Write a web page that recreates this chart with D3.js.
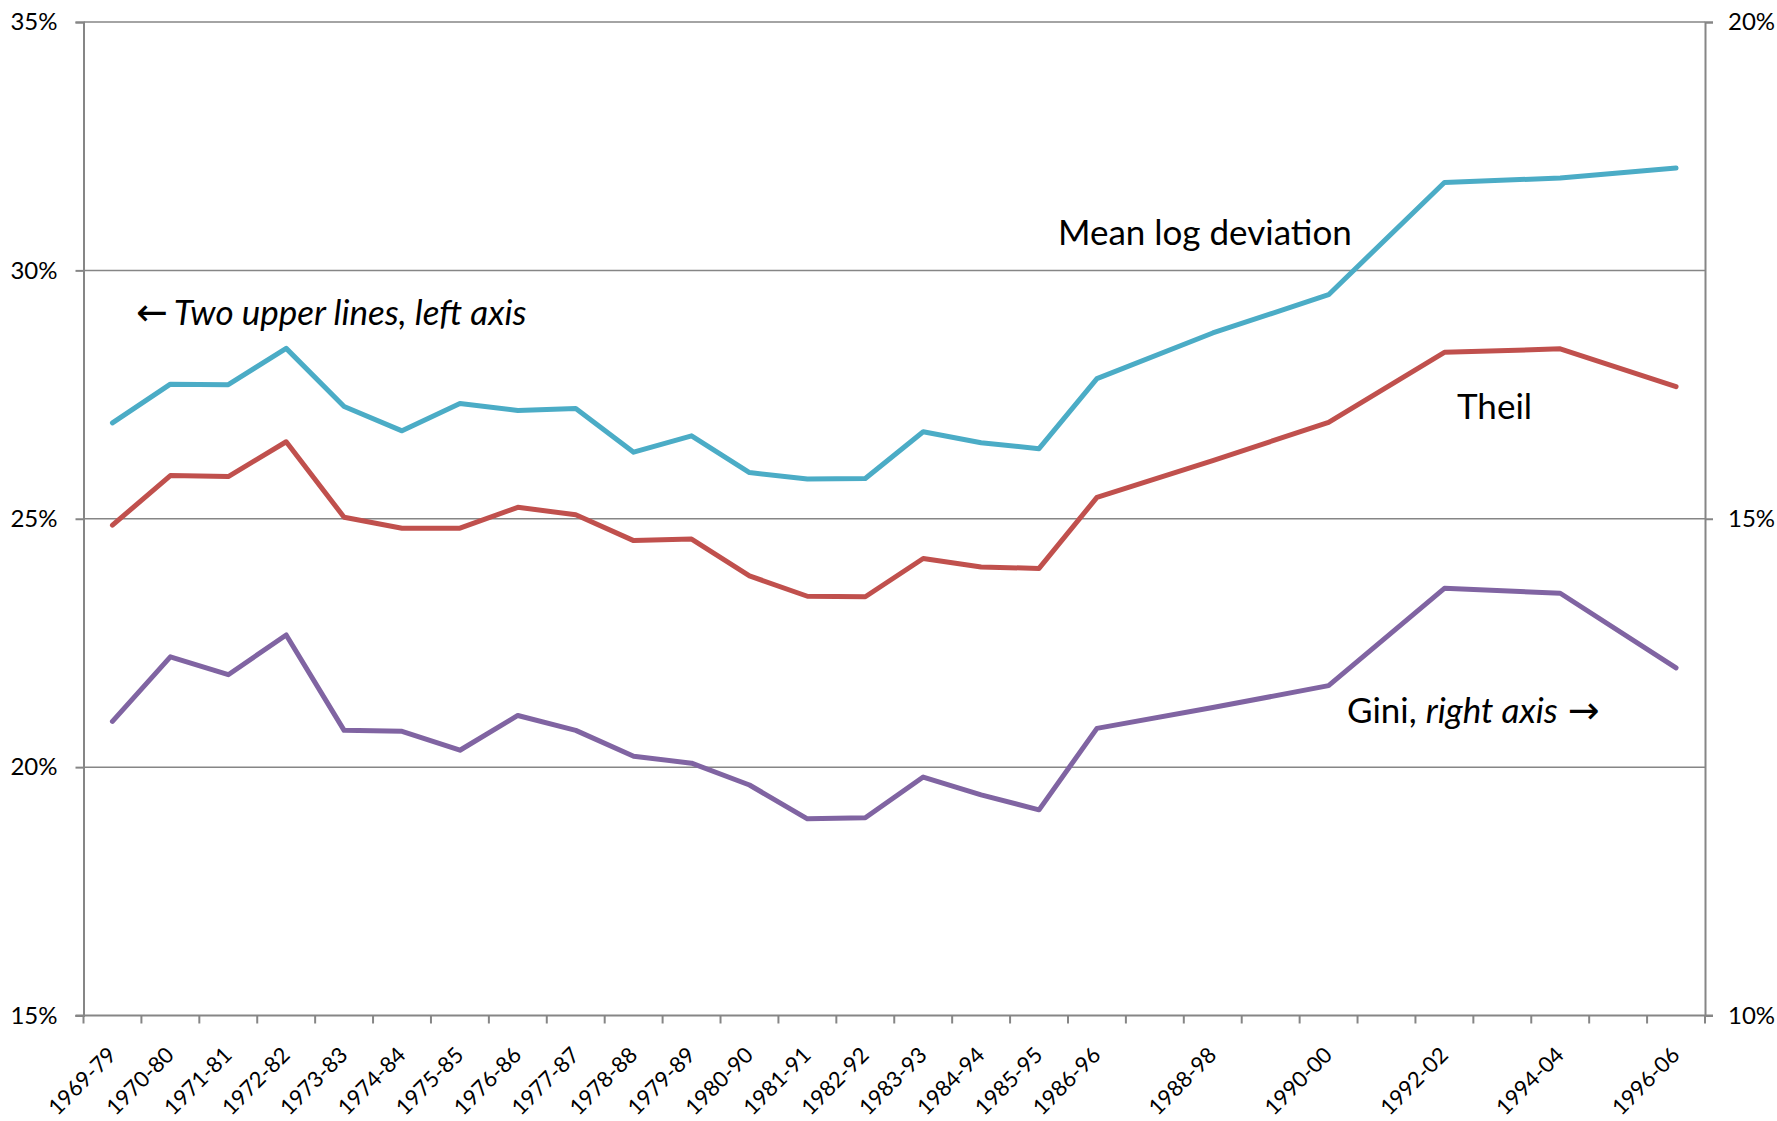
<!DOCTYPE html>
<html>
<head>
<meta charset="utf-8">
<script src="https://cdn.jsdelivr.net/npm/d3@7/dist/d3.min.js"></script>
<style>
  html, body { margin: 0; padding: 0; background: #fff; }
  svg { display: block; font-family: Lato, "Open Sans", sans-serif; }
</style>
</head>
<body>
<div id="chart"></div>
<script>
// Inequality measures over rolling ten-year periods.
// Mean log deviation and Theil are read against the left axis, Gini against the right one.

/* categories: every ten-year window; the odd ones after 1986-96 carry no data and no label */
var periods = ["1969-79", "1970-80", "1971-81", "1972-82", "1973-83", "1974-84", "1975-85",
  "1976-86", "1977-87", "1978-88", "1979-89", "1980-90", "1981-91", "1982-92", "1983-93",
  "1984-94", "1985-95", "1986-96", "1987-97", "1988-98", "1989-99", "1990-00", "1991-01",
  "1992-02", "1993-03", "1994-04", "1995-05", "1996-06"];

/* series values, in percent */
var meanLogDev = [26.93, 27.71, 27.70, 28.43, 27.26, 26.77, 27.32, 27.18, 27.22, 26.34, 26.67,
  25.93, 25.80, 25.81, 26.75, 26.53, 26.41, 27.82, null, 28.74, null, 29.51, null, 31.77, null,
  31.86, null, 32.06];
var theil = [24.87, 25.87, 25.85, 26.55, 25.03, 24.81, 24.81, 25.23, 25.08, 24.56, 24.59,
  23.85, 23.44, 23.43, 24.20, 24.03, 24.00, 25.43, null, 26.17, null, 26.94, null, 28.35, null,
  28.42, null, 27.66];
var gini = [12.96, 13.61, 13.43, 13.83, 12.87, 12.86, 12.67, 13.02, 12.87, 12.61, 12.54,
  12.32, 11.98, 11.99, 12.40, 12.22, 12.07, 12.89, null, 13.10, null, 13.32, null, 14.30, null,
  14.25, null, 13.50];

/* axis ticks, in percent */
var leftTicks = [15, 20, 25, 30, 35];
var rightTicks = [10, 15, 20];

var width = 1777;
var height = 1121;
var plot = {left: 83.5, top: 22, right: 1705, bottom: 1015.5};
var gray = "#868686";

var svg = d3.select("#chart").append("svg")
    .attr("width", width)
    .attr("height", height);

/* scales */
var x = d3.scaleBand().domain(periods).range([plot.left, plot.right]).padding(0);
var yLeft = d3.scaleLinear().domain([15, 35]).range([plot.bottom, plot.top]);
var yRight = d3.scaleLinear().domain([10, 20]).range([plot.bottom, plot.top]);
var mid = function (p) {
  return x(p) + x.bandwidth() / 2;
};
var pct = function (d) {
  return d + "%";
};

/* horizontal gridlines on the left axis values */
svg.append("g").selectAll("line")
    .data(leftTicks.slice(1))
    .enter()
    .append("line")
    .attr("x1", plot.left)
    .attr("x2", plot.right)
    .attr("y1", function (d) { return yLeft(d); })
    .attr("y2", function (d) { return yLeft(d); })
    .attr("stroke", gray)
    .attr("stroke-width", 1.5);

/* left axis */
var leftAxis = svg.append("g")
    .attr("transform", "translate(" + plot.left + ",0)")
    .call(d3.axisLeft(yLeft).tickValues(leftTicks).tickFormat(pct).tickSize(8).tickPadding(18));

/* right axis */
var rightAxis = svg.append("g")
    .attr("transform", "translate(" + plot.right + ",0)")
    .call(d3.axisRight(yRight).tickValues(rightTicks).tickFormat(pct).tickSize(8).tickPadding(15));

[leftAxis, rightAxis].forEach(function (g) {
  g.select(".domain").attr("stroke", gray).attr("stroke-width", 2);
  g.selectAll(".tick line").attr("stroke", gray).attr("stroke-width", 2);
  g.selectAll(".tick text")
      .attr("fill", "#000")
      .style("font-size", "24px")
      .style("font-family", "Lato, sans-serif");
});

/* bottom axis: line, tick marks between categories, rotated labels at centres */
var bottom = svg.append("g");
bottom.append("line")
    .attr("x1", plot.left - 8)
    .attr("x2", plot.right + 8)
    .attr("y1", plot.bottom)
    .attr("y2", plot.bottom)
    .attr("stroke", gray)
    .attr("stroke-width", 2);
bottom.selectAll("line.tick")
    .data(periods.concat([null]))
    .enter()
    .append("line")
    .attr("class", "tick")
    .attr("x1", function (p) { return p === null ? plot.right : x(p); })
    .attr("x2", function (p) { return p === null ? plot.right : x(p); })
    .attr("y1", plot.bottom)
    .attr("y2", plot.bottom + 8)
    .attr("stroke", gray)
    .attr("stroke-width", 2);
bottom.selectAll("text")
    .data(periods.filter(function (p, i) { return gini[i] !== null; }))
    .enter()
    .append("text")
    .attr("transform", function (p) {
      return "translate(" + (mid(p) + 5) + "," + (plot.bottom + 41) + ") rotate(-45)";
    })
    .attr("text-anchor", "end")
    .style("font-size", "22px")
    .attr("fill", "#000")
    .text(function (p) { return p; });

/* the three lines; missing windows are skipped so the line runs straight across */
var series = [
  {values: meanLogDev, scale: yLeft, color: "#4BACC6"},
  {values: theil, scale: yLeft, color: "#C0504D"},
  {values: gini, scale: yRight, color: "#8064A2"}
];
series.forEach(function (s) {
  var pts = periods
      .map(function (p, i) { return {p: p, v: s.values[i]}; })
      .filter(function (d) { return d.v !== null; });
  var line = d3.line()
      .x(function (d) { return mid(d.p); })
      .y(function (d) { return s.scale(d.v); });
  svg.append("path")
      .datum(pts)
      .attr("d", line)
      .attr("fill", "none")
      .attr("stroke", s.color)
      .attr("stroke-width", 5)
      .attr("stroke-linejoin", "round")
      .attr("stroke-linecap", "round");
});

/* annotations */
var notes = svg.append("g").style("font-size", "35px").attr("fill", "#000");

var n1 = notes.append("text").attr("x", 136).attr("y", 325);
n1.append("tspan").style("font-family", "'DejaVu Sans', sans-serif").style("font-size", "38px").text("\u2190");
n1.append("tspan").style("font-style", "italic").attr("dx", 6).text("Two upper lines, left axis");

notes.append("text").attr("x", 1058).attr("y", 245).text("Mean log deviation");
notes.append("text").attr("x", 1457).attr("y", 419).text("Theil");

var n4 = notes.append("text").attr("x", 1347).attr("y", 723);
n4.append("tspan").text("Gini, ");
n4.append("tspan").style("font-style", "italic").text("right axis");
n4.append("tspan").style("font-family", "'DejaVu Sans', sans-serif").style("font-size", "38px").attr("dx", 10).text("\u2192");
</script>
</body>
</html>
